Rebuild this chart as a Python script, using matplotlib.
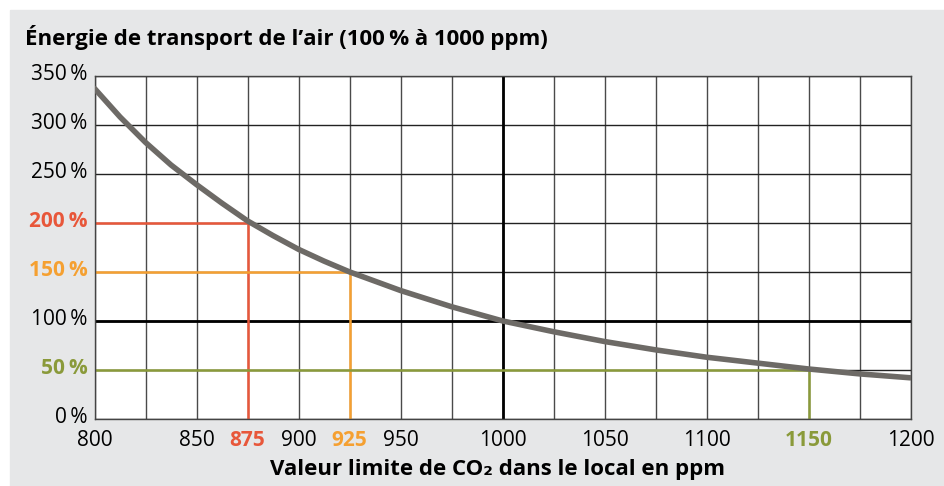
import matplotlib
matplotlib.use('Agg')
import matplotlib.pyplot as plt
from matplotlib.patches import Rectangle
from matplotlib.transforms import ScaledTranslation

plt.rcParams['font.family'] = ['Open Sans', 'DejaVu Sans']

# valeurs (ppm -> %)
ppm = [800, 812.5, 825, 837.5, 850, 862.5, 875, 887.5, 900, 912.5, 925, 950, 975, 1000,
       1025, 1050, 1075, 1100, 1125, 1150, 1175, 1200]
energie = [337, 308, 282, 259, 239, 220, 202, 187, 173, 161, 150, 131, 114.5, 100,
           89, 79, 70.5, 63, 57, 51, 46, 42]

# repères colorés
repere_ppm = [875, 925, 1150]
repere_pct = [200, 150, 50]
repere_col = ['#e8573a', '#f5a031', '#8a9a3a']

xticks = [800, 850, 875, 900, 925, 950, 1000, 1050, 1100, 1150, 1200]
yticks = [0, 50, 100, 150, 200, 250, 300, 350]

fig = plt.figure(figsize=(9.44, 4.86), dpi=100)
fig.patches.append(Rectangle((10 / 944, 0), 934 / 944, 476 / 486, transform=fig.transFigure,
                             color='#e6e7e8', zorder=-10))
ax = fig.add_axes([94.5 / 944, 1 - 419 / 486, 816 / 944, (419 - 75.7) / 486])
ax.set_facecolor('white')

for x in range(800, 1201, 25):
    ax.axvline(x, color='#4a4a4a', lw=1, zorder=1)
for y in yticks:
    ax.axhline(y, color='#222222', lw=1, zorder=1)
ax.axvline(1000, color='black', lw=2, zorder=1)
ax.axhline(100, color='black', lw=2, zorder=1)

for px, pc, c in zip(repere_ppm, repere_pct, repere_col):
    ax.plot([800, px, px], [pc, pc, 0], color=c, lw=1.8, zorder=2)

ax.plot(ppm, energie, color='#6d6a66', lw=4, solid_capstyle='round',
        solid_joinstyle='round', zorder=3)

ax.set_xlim(800, 1200)
ax.set_ylim(0, 350)
ax.set_xticks(xticks)
ax.set_xticklabels([str(v) for v in xticks])
ax.set_yticks(yticks)
ax.set_yticklabels([f'{v}\u2009%' for v in yticks])
ax.tick_params(length=0, labelsize=15)
ax.tick_params(axis='y', pad=5)
ax.tick_params(axis='x', pad=8)
for s in ax.spines.values():
    s.set_color('#444444')
    s.set_linewidth(1)

up = ScaledTranslation(0, 4 / 100, fig.dpi_scale_trans)
for lab in ax.get_yticklabels():
    lab.set_transform(lab.get_transform() + up)
    v = int(lab.get_text().split('\u2009')[0])
    if v in repere_pct:
        lab.set_color(repere_col[repere_pct.index(v)])
        lab.set_fontweight('bold')
for lab in ax.get_xticklabels():
    v = int(lab.get_text())
    if v in repere_ppm:
        lab.set_color(repere_col[repere_ppm.index(v)])
        lab.set_fontweight('bold')

fig.text(25 / 944, 1 - 38 / 486, 'Énergie de transport de l\u2019air (100\u2009% à 1000 ppm)',
         fontsize=16, fontweight='bold', va='center', ha='left')
fig.text(497 / 944, 1 - 469 / 486, 'Valeur limite de CO\u2082 dans le local en ppm',
         fontsize=16, fontweight='bold', va='center', ha='center')

plt.savefig('out.png', dpi=100)
